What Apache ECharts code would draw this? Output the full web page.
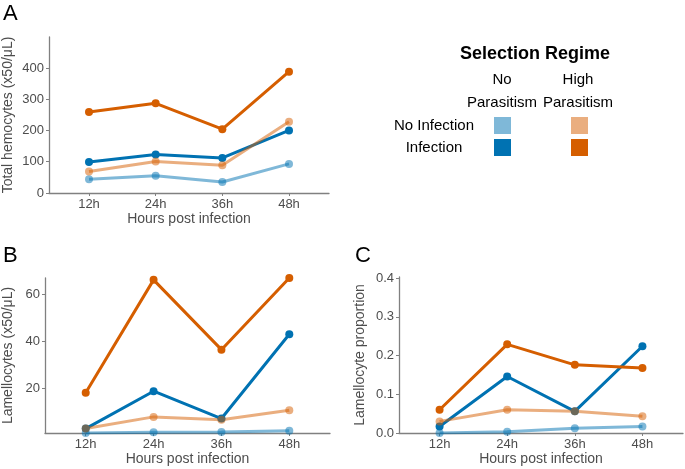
<!DOCTYPE html>
<html>
<head>
<meta charset="utf-8">
<script src="https://cdn.jsdelivr.net/npm/echarts@6/dist/echarts.min.js"></script>
<style>html,body{margin:0;padding:0;background:#fff}#c{width:685px;height:469px}</style>
</head>
<body>
<div id="c"></div>
<script>
const categories = ['12h', '24h', '36h', '48h'];
const hemoNPNoInf = [44, 55, 35, 93];
const hemoNPInf = [99, 123, 112, 200];
const hemoHPNoInf = [69, 101, 89, 228];
const hemoHPInf = [259, 287, 204, 388];
const lamNPNoInf = [0.7, 1.0, 1.1, 1.7];
const lamNPInf = [2.6, 18.6, 6.9, 43.0];
const lamHPNoInf = [2.6, 7.6, 6.4, 10.4];
const lamHPInf = [17.9, 66.3, 36.4, 67.1];
const propNPNoInf = [0.0, 0.003, 0.012, 0.017];
const propNPInf = [0.017, 0.146, 0.056, 0.224];
const propHPNoInf = [0.030, 0.060, 0.056, 0.043];
const propHPInf = [0.060, 0.229, 0.176, 0.168];
const ticksA = [0, 100, 200, 300, 400];
const ticksB = [20, 40, 60];
const ticksC = [0, 0.1, 0.2, 0.3, 0.4];
const regimeLabels = ['No\nParasitism', 'High\nParasitism'];
const infectionLabels = ['No Infection', 'Infection'];
const legendTitle = 'Selection Regime';

const FONT = 'Liberation Sans, Arial, Helvetica, sans-serif';
const AX = '#808080';
const TXT = '#4d4d4d';
const colNPNo = 'rgba(0,114,178,0.5)';
const colNPInf = '#0072B2';
const colHPNo = 'rgba(213,94,0,0.5)';
const colHPInf = '#D55E00';
const legendColors = [[colNPNo, colHPNo], [colNPInf, colHPInf]];

const xIdx = categories.map((c, i) => i);

function xAxis(gi) {
  return {
    type: 'value', gridIndex: gi, min: -0.6, max: 3.6,
    name: 'Hours post infection', nameLocation: 'middle', nameGap: 18,
    nameTextStyle: { fontFamily: FONT, fontSize: 14, color: TXT },
    axisLine: { onZero: false, lineStyle: { color: AX, width: 1.3 } },
    axisTick: { show: true, length: 3, customValues: xIdx, lineStyle: { color: AX } },
    axisLabel: { customValues: xIdx, margin: 5, fontFamily: FONT, fontSize: 13, color: TXT,
      formatter: v => categories[Math.round(v)] },
    splitLine: { show: false }
  };
}
function yAxis(gi, min, max, ticks, name, gap, fmt) {
  return {
    type: 'value', gridIndex: gi, min: min, max: max,
    name: name, nameLocation: 'middle', nameGap: gap,
    nameTextStyle: { fontFamily: FONT, fontSize: 14, color: TXT },
    axisLine: { show: true, onZero: false, lineStyle: { color: AX, width: 1.3 } },
    axisTick: { show: true, length: 3, customValues: ticks, lineStyle: { color: AX } },
    axisLabel: { customValues: ticks, margin: 5, fontFamily: FONT, fontSize: 13, color: TXT,
      formatter: fmt },
    splitLine: { show: false }
  };
}
function ser(gi, vals, color) {
  return {
    type: 'line', xAxisIndex: gi, yAxisIndex: gi,
    data: vals.map((v, i) => [i, v]),
    symbol: 'circle', symbolSize: 8, showSymbol: true,
    lineStyle: { color: color, width: 3 },
    itemStyle: { color: color, borderWidth: 0 },
    emphasis: { disabled: true }, animation: false, z: 2
  };
}

const graphics = [
  { type: 'text', left: 3, top: 3, style: { text: 'A', font: '22px ' + FONT, fill: '#000' } },
  { type: 'text', left: 3, top: 245, style: { text: 'B', font: '22px ' + FONT, fill: '#000' } },
  { type: 'text', left: 355, top: 245, style: { text: 'C', font: '22px ' + FONT, fill: '#000' } },
  { type: 'text', x: 535, y: 54, style: { text: legendTitle, font: 'bold 18px ' + FONT, fill: '#000', align: 'center', verticalAlign: 'middle' } }
];
const regX = [502, 578];
regimeLabels.forEach((t, j) => {
  graphics.push({ type: 'text', x: regX[j], y: 91, style: { text: t, font: '15px ' + FONT, fill: '#000', align: 'center', verticalAlign: 'middle', lineHeight: 23 } });
});
const rowY = [126, 148];
infectionLabels.forEach((t, i) => {
  graphics.push({ type: 'text', x: 434, y: rowY[i], style: { text: t, font: '15px ' + FONT, fill: '#000', align: 'center', verticalAlign: 'middle' } });
  [494, 571].forEach((x, j) => {
    graphics.push({ type: 'rect', shape: { x: x, y: rowY[i] - 9, width: 17, height: 17 }, style: { fill: legendColors[i][j] } });
  });
});

const chart = echarts.init(document.getElementById('c'), null, { renderer: 'canvas' });
chart.setOption({
  animation: false,
  backgroundColor: '#fff',
  grid: [
    { left: 49, top: 37, width: 280, height: 156 },
    { left: 41, top: 278, width: 289, height: 155 },
    { left: 399, top: 277, width: 284, height: 156 }
  ],
  xAxis: [xAxis(0), xAxis(1), xAxis(2)],
  yAxis: [
    yAxis(0, 0, 499, ticksA, 'Total hemocytes (x50/μL)', 34, v => String(v)),
    yAxis(1, 0.7, 67.1, ticksB, 'Lamellocytes (x50/μL)', 30, v => String(v)),
    yAxis(2, 0, 0.403, ticksC, 'Lamellocyte proportion', 32, v => v.toFixed(1))
  ],
  series: [
    ser(0, hemoNPNoInf, colNPNo), ser(0, hemoNPInf, colNPInf), ser(0, hemoHPNoInf, colHPNo), ser(0, hemoHPInf, colHPInf),
    ser(1, lamNPNoInf, colNPNo), ser(1, lamNPInf, colNPInf), ser(1, lamHPNoInf, colHPNo), ser(1, lamHPInf, colHPInf),
    ser(2, propNPNoInf, colNPNo), ser(2, propNPInf, colNPInf), ser(2, propHPNoInf, colHPNo), ser(2, propHPInf, colHPInf)
  ],
  graphic: graphics
});
</script>
</body>
</html>
